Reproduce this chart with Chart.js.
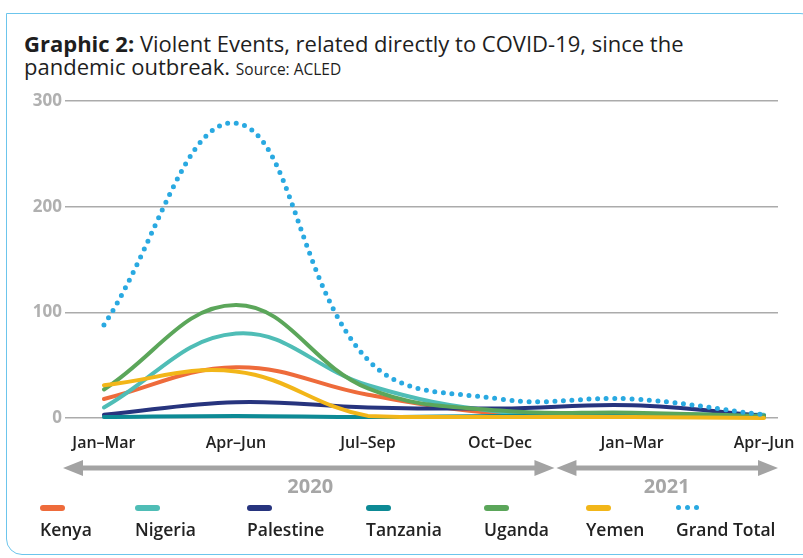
<!DOCTYPE html>
<html>
<head>
<meta charset="utf-8">
<script src="https://cdn.jsdelivr.net/npm/chart.js@4/dist/chart.umd.min.js"></script>
<style>
  html, body { margin: 0; padding: 0; background: #fff; }
  body { width: 803px; height: 558px; position: relative; overflow: hidden; font-family: "Open Sans", sans-serif; }
  #card { position: absolute; left: 6px; top: 13px; width: 820px; height: 542px; border: 1.5px solid #6cc5ec; border-radius: 0 26px 0 16px; box-sizing: border-box; }
  #title { position: absolute; left: 24px; top: 32px; width: 700px; font-size: 22px; line-height: 23px; color: #1e1e1e; }
  #title b { font-weight: 700; }
  #title small { font-size: 15.5px; }
  #wrap { position: absolute; left: 0; top: 0; width: 803px; height: 558px; }
  #legend { position: absolute; left: 40px; width: 750px; top: 505px; display: grid; grid-template-columns: 95px 112px 119px 118px 102px 90px auto; }
  .item { display: flex; flex-direction: column; align-items: flex-start; }
  .sw { height: 6px; width: 25px; border-radius: 3px; margin-bottom: 8px; }
  .dots { display: flex; gap: 4px; height: 6px; margin-bottom: 8px; }
  .dots span { width: 5px; height: 5px; border-radius: 50%; }
  .lab { font-size: 17.5px; font-weight: 600; color: #222; line-height: 20px; white-space: nowrap; }
</style>
</head>
<body>
<div id="card"></div>
<div id="title"><b>Graphic 2:</b> Violent Events, related directly to COVID-19, since the pandemic outbreak. <small>Source: ACLED</small></div>
<div id="wrap"><canvas id="c" width="803" height="558"></canvas></div>
<div id="legend"></div>
<script>
const categories = ['Jan–Mar', 'Apr–Jun', 'Jul–Sep', 'Oct–Dec', 'Jan–Mar', 'Apr–Jun'];
const years = ['2020', '2021'];
const yTicks = [0, 100, 200, 300];

const kenya     = [18, 48, 22, 4, 1, 2];
const nigeria   = [10, 80, 31, 6, 4, 3];
const palestine = [3, 15, 10, 9, 12, 2];
const tanzania  = [1, 2, 1, 2, 2, 1];
const uganda    = [27, 107, 28, 7, 5, 2];
const yemen     = [31, 44, 2, 1, 1, 0];
const grandTotal = [88, 279, 55, 18, 18, 3];

const seriesNames = ['Kenya', 'Nigeria', 'Palestine', 'Tanzania', 'Uganda', 'Yemen', 'Grand Total'];
const seriesData = [kenya, nigeria, palestine, tanzania, uganda, yemen, grandTotal];
const seriesColors = ['#ee6b3b', '#4fbdb6', '#27347e', '#0d8a95', '#5ba65a', '#f2b619', '#29a9e1'];

const toPoints = arr => arr.map((v, i) => ({ x: i, y: v }));

const datasets = seriesNames.map((name, k) => {
  const dotted = name === 'Grand Total';
  return {
    label: name,
    data: toPoints(seriesData[k]),
    borderColor: seriesColors[k],
    backgroundColor: seriesColors[k],
    borderWidth: dotted ? 5 : 4,
    borderDash: dotted ? [0, 8.6] : [],
    borderCapStyle: 'round',
    borderJoinStyle: 'round',
    tension: 0.4,
    pointRadius: 0,
    pointHoverRadius: 0,
    fill: false,
    clip: false,
    order: dotted ? 0 : (10 - k)
  };
});

const yearArrows = {
  id: 'yearArrows',
  afterDraw(chart) {
    const ctx = chart.ctx;
    const xs = chart.scales.x;
    const left = chart.chartArea.left - 2;
    const right = chart.chartArea.right;
    const mid = xs.getPixelForValue(3.42);
    const y = 468;
    const col = '#a3a3a3';
    function arrow(x1, x2) {
      const hl = 20, hh = 8;
      ctx.save();
      ctx.strokeStyle = col; ctx.fillStyle = col; ctx.lineWidth = 5;
      ctx.beginPath(); ctx.moveTo(x1 + hl - 2, y); ctx.lineTo(x2 - hl + 2, y); ctx.stroke();
      ctx.beginPath(); ctx.moveTo(x1, y); ctx.lineTo(x1 + hl, y - hh); ctx.lineTo(x1 + hl, y + hh); ctx.closePath(); ctx.fill();
      ctx.beginPath(); ctx.moveTo(x2, y); ctx.lineTo(x2 - hl, y - hh); ctx.lineTo(x2 - hl, y + hh); ctx.closePath(); ctx.fill();
      ctx.restore();
    }
    arrow(left, mid - 1);
    arrow(mid + 1, right);
    ctx.save();
    ctx.fillStyle = '#a6a6a6';
    ctx.font = '700 20px "Open Sans"';
    ctx.textAlign = 'center'; ctx.textBaseline = 'middle';
    ctx.fillText(years[0], (left + mid) / 2 + 1, 487);
    ctx.fillText(years[1], (mid + right) / 2, 487);
    ctx.restore();
  }
};

new Chart(document.getElementById('c'), {
  type: 'line',
  data: { datasets },
  options: {
    responsive: false,
    animation: false,
    events: [],
    layout: { padding: { left: 0, right: 25, top: 101, bottom: 100 } },
    plugins: { legend: { display: false }, tooltip: { enabled: false }, title: { display: false } },
    scales: {
      x: {
        type: 'linear',
        min: -0.295,
        max: 5.106,
        afterBuildTicks: s => { s.ticks = categories.map((c, i) => ({ value: i })); },
        afterFit: s => { s.height = 40; s.paddingLeft = 0; s.paddingRight = 0; },
        grid: { display: false, drawTicks: false },
        border: { display: false },
        ticks: {
          autoSkip: false, maxRotation: 0, padding: 16,
          color: '#222', font: { family: 'Open Sans', size: 16, weight: '600' },
          callback: v => categories[v]
        }
      },
      y: {
        min: 0, max: 300,
        afterBuildTicks: s => { s.ticks = yTicks.map(v => ({ value: v })); },
        afterFit: s => { s.width = 65; },
        grid: { color: '#ababab', lineWidth: 1.5, drawTicks: false },
        border: { display: false },
        ticks: { padding: 3, color: '#b0b0b0', font: { family: 'Open Sans', size: 17, weight: '700' } }
      }
    }
  },
  plugins: [yearArrows]
});

const legend = document.getElementById('legend');
seriesNames.forEach((name, k) => {
  const item = document.createElement('div');
  item.className = 'item';
  let sw;
  if (name === 'Grand Total') {
    sw = document.createElement('div'); sw.className = 'dots';
    for (let i = 0; i < 3; i++) { const d = document.createElement('span'); d.style.background = seriesColors[k]; sw.appendChild(d); }
  } else {
    sw = document.createElement('div'); sw.className = 'sw'; sw.style.background = seriesColors[k];
  }
  const lab = document.createElement('div'); lab.className = 'lab'; lab.textContent = name;
  item.appendChild(sw); item.appendChild(lab);
  legend.appendChild(item);
});
</script>
</body>
</html>
